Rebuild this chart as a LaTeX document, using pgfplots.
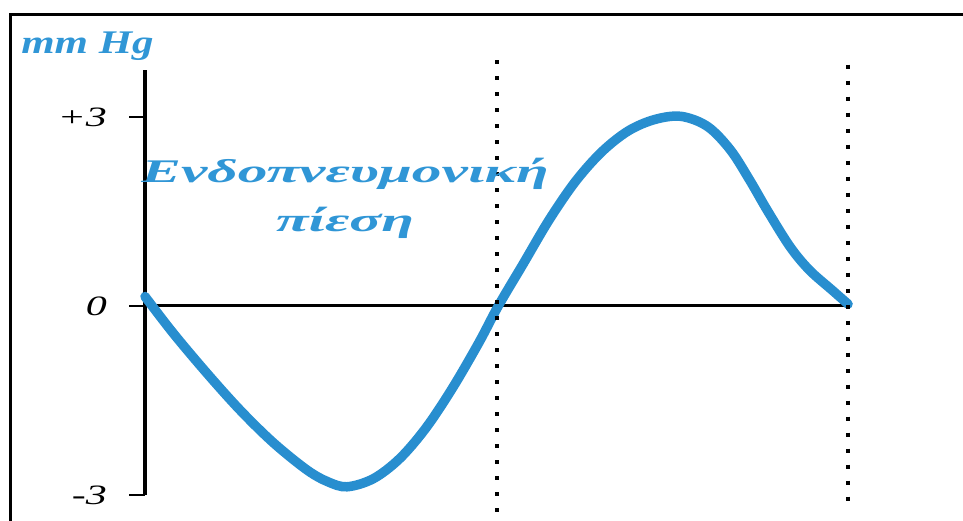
\documentclass[border=0pt]{standalone}
\usepackage{fontspec}
\setmainfont{Liberation Serif}
\usepackage{graphicx}
\usepackage{pgfplots}
\pgfplotsset{compat=1.18}
\definecolor{lungblue}{RGB}{40,142,207}
\definecolor{labelblue}{RGB}{48,150,214}

\begin{document}
\begin{tikzpicture}
\begin{axis}[
  at={(0,0)}, anchor=south west,
  scale only axis, width=351.5pt, height=212.6pt,
  xmin=0, xmax=4, ymin=-3, ymax=3.75,
  axis x line*=middle, axis y line*=left,
  xtick=\empty, ytick={-3,0,3},
  yticklabels={\scalebox{1.5}[1]{-3}, \scalebox{1.5}[1]{0}, \scalebox{1.5}[1]{+3}},
  /pgf/number format/assume math mode=true,
  yticklabel style={font=\fontsize{14}{16}\selectfont\itshape, anchor=east, xshift=-7.5pt},
  tick align=outside, major tick length=8pt,
  y axis line style={line width=2pt},
  x axis line style={line width=1.5pt},
  ytick style={line width=1.2pt, black},
  clip=false,
]
% intrapulmonary pressure over one breathing cycle (inspiration 0-2, expiration 2-4)
\addplot[lungblue, line width=4.75pt, smooth, tension=0.55, line cap=round] coordinates {
  (0,0.15) (0.16,-0.43) (0.35,-1.06) (0.54,-1.65) (0.73,-2.17) (0.92,-2.60)
  (1.04,-2.79) (1.15,-2.87) (1.30,-2.74) (1.45,-2.42) (1.60,-1.93) (1.75,-1.30)
  (1.90,-0.58) (2.01,0.0) (2.15,0.66) (2.30,1.37) (2.45,1.98) (2.60,2.45)
  (2.75,2.78) (2.90,2.96) (3.05,3.01) (3.20,2.85) (3.33,2.48) (3.44,2.0)
  (3.54,1.52) (3.67,0.94) (3.78,0.57) (3.91,0.25) (4.0,0.03)
};
% phase boundaries, dotted from the top down
\addplot[black, line width=2pt, dash pattern=on 2pt off 6pt] coordinates {(2,3.9) (2,-3.45)};
\addplot[black, line width=2pt, dash pattern=on 2pt off 6pt] coordinates {(4,3.83) (4,-3.27)};

\draw[line width=1.5pt] (axis cs:-0.768,-3.6) -- (axis cs:-0.768,4.619) -- (axis cs:4.8,4.619);

\node[anchor=base west, text=labelblue, font=\fontsize{16.5}{20}\selectfont\bfseries\itshape, inner sep=0pt]
  at (axis cs:-0.706,4.0) {\scalebox{1.3}[1]{mm Hg}};
\node[anchor=base, text=labelblue, font=\fontsize{16.5}{20}\selectfont\bfseries\itshape, inner sep=0pt]
  at (axis cs:1.138,1.968) {\scalebox{1.8}[1]{Ενδοπνευμονική}};
\node[anchor=base, text=labelblue, font=\fontsize{16.5}{20}\selectfont\bfseries\itshape, inner sep=0pt]
  at (axis cs:1.138,1.175) {\scalebox{1.8}[1]{πίεση}};

\coordinate (bbsw) at (axis cs:-0.825,-3.413);
\coordinate (bbne) at (axis cs:4.654,4.857);
\end{axis}
\pgfresetboundingbox
\useasboundingbox (bbsw) rectangle (bbne);
\end{tikzpicture}
\end{document}
